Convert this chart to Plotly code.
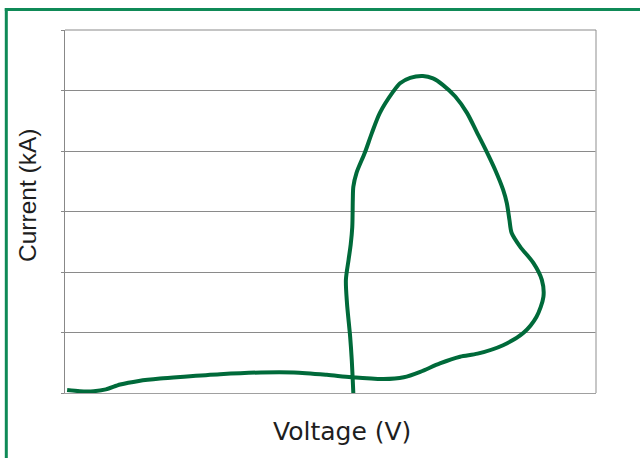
import plotly.graph_objects as go

# Curve trace (Voltage arbitrary units, Current arbitrary units)
voltage = [0.04, 0.28, 0.54, 0.77, 1.04, 1.39, 1.79, 2.24, 2.92, 3.69, 4.31, 4.93,
           5.39, 6.00, 6.38, 6.69, 7.06, 7.44, 7.77, 8.25, 8.63, 8.88, 9.01, 8.98,
           8.82, 8.57, 8.41, 8.37, 8.32, 8.25, 8.10, 7.94, 7.75, 7.57, 7.35, 7.12,
           6.93, 6.74, 6.50, 6.31, 6.18, 5.93, 5.78, 5.65, 5.49, 5.43, 5.42, 5.41,
           5.38, 5.34, 5.29, 5.31, 5.37, 5.40, 5.43]
current = [0.05, 0.03, 0.03, 0.06, 0.14, 0.20, 0.24, 0.27, 0.31, 0.34, 0.34, 0.30,
           0.26, 0.23, 0.26, 0.35, 0.49, 0.60, 0.65, 0.79, 0.99, 1.26, 1.59, 1.87,
           2.15, 2.42, 2.65, 2.86, 3.14, 3.36, 3.69, 3.99, 4.32, 4.63, 4.90, 5.09,
           5.20, 5.24, 5.21, 5.12, 4.98, 4.63, 4.30, 3.98, 3.64, 3.41, 3.19, 2.74,
           2.45, 2.20, 1.87, 1.49, 0.93, 0.55, 0.00]

x_range = [0, 10]
y_range = [0, 6]
y_ticks = [0, 1, 2, 3, 4, 5, 6]

x_title = "Voltage (V)"
y_title = "Current (kA)"

W, H = 640, 458
L, R, T, B = 65, 596, 30, 393

def px(xp):
    return (xp - L) / (R - L)

def py(yp):
    return (B - yp) / (B - T)

fig = go.Figure()
fig.add_trace(go.Scatter(
    x=voltage, y=current, mode="lines",
    line=dict(color="#006a3a", width=4, shape="spline", smoothing=0.8),
    hoverinfo="skip", showlegend=False,
))

grid = "#8a8a8a"
fig.update_xaxes(range=x_range, showgrid=False, zeroline=False, showticklabels=False,
                 showline=True, linecolor="#a0a0a0", linewidth=1, ticks="")
fig.update_yaxes(range=y_range, tickvals=y_ticks, showgrid=True, gridcolor=grid, gridwidth=1,
                 zeroline=False, showticklabels=False, showline=True, linecolor="#888888",
                 linewidth=1, ticks="outside", ticklen=3, tickcolor=grid)

shapes = [
    # right border of plot area
    dict(type="line", xref="paper", yref="paper", x0=1, x1=1, y0=0, y1=1,
         line=dict(color="#b4b4b4", width=1.5)),
    # top border / gridline
    dict(type="line", xref="paper", yref="paper", x0=0, x1=1, y0=1, y1=1,
         line=dict(color=grid, width=1)),
    # green frame: left
    dict(type="line", xref="paper", yref="paper", x0=px(6.3), x1=px(6.3),
         y0=py(8.2), y1=py(470), line=dict(color="#0f8a57", width=3)),
    # green frame: top
    dict(type="line", xref="paper", yref="paper", x0=px(4.8), x1=px(650),
         y0=py(9.5), y1=py(9.5), line=dict(color="#0f8a57", width=3)),
]

annotations = [
    dict(text=x_title, xref="paper", yref="paper", x=px(342), y=py(431),
         xanchor="center", yanchor="middle", showarrow=False,
         font=dict(family="DejaVu Sans, Arial, sans-serif", size=25, color="#1e1e1e")),
    dict(text=y_title, xref="paper", yref="paper", x=px(28), y=py(196),
         xanchor="center", yanchor="middle", showarrow=False, textangle=-90,
         font=dict(family="Liberation Sans, Arial, sans-serif", size=24.5, color="#1e1e1e")),
]

fig.update_layout(
    width=W, height=H,
    margin=dict(l=L, r=W - R, t=T, b=H - B, pad=0),
    paper_bgcolor="white", plot_bgcolor="white",
    shapes=shapes, annotations=annotations,
)

fig.write_html("out.html", config={"displayModeBar": False},
               post_script="document.body.style.margin='0';document.body.style.padding='0';")
